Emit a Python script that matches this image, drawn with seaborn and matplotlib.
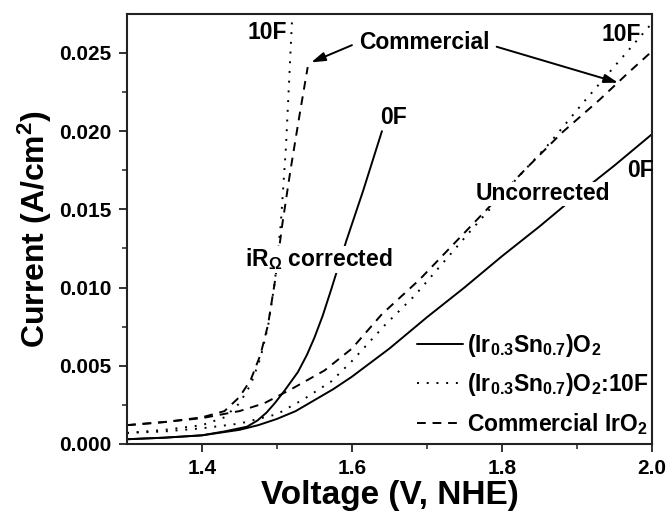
import matplotlib
matplotlib.use("Agg")
import matplotlib.pyplot as plt
from matplotlib.lines import Line2D
import seaborn as sns

# Polarization curves (voltage in V vs NHE, current density in A/cm^2)
# Uncorrected (Ir0.3Sn0.7)O2
v_0f = [1.30, 1.35, 1.40, 1.45, 1.475, 1.50, 1.525, 1.55, 1.575, 1.60, 1.625,
        1.65, 1.70, 1.75, 1.80, 1.85, 1.90, 1.95, 2.00]
j_0f = [0.0003, 0.0004, 0.00055, 0.0009, 0.0012, 0.0016, 0.0021, 0.0028,
        0.0035, 0.0043, 0.0052, 0.0061, 0.0081, 0.0100, 0.0120, 0.0139,
        0.0159, 0.0178, 0.0198]

# Uncorrected (Ir0.3Sn0.7)O2:10F
v_10f = [1.30, 1.35, 1.40, 1.45, 1.50, 1.537, 1.5725, 1.60, 1.644, 1.684,
         1.729, 1.756, 1.8186, 1.863, 1.908, 1.953, 2.00]
j_10f = [0.0007, 0.0008, 0.0010, 0.0013, 0.0019, 0.0029, 0.0040, 0.0053,
         0.0076, 0.0095, 0.0120, 0.0135, 0.0169, 0.0192, 0.0218, 0.0243, 0.0269]

# Uncorrected commercial IrO2
v_com = [1.30, 1.35, 1.40, 1.45, 1.483, 1.519, 1.5635, 1.60, 1.64, 1.69,
         1.73, 1.78, 1.83, 1.88, 1.93, 1.97, 2.00]
j_com = [0.0012, 0.0014, 0.00165, 0.0021, 0.0026, 0.0035, 0.0047, 0.0061,
         0.0083, 0.0105, 0.0125, 0.0150, 0.0175, 0.0199, 0.0220, 0.0238, 0.0251]

# iR-corrected curves
v_0f_ir = [1.30, 1.35, 1.40, 1.43, 1.46, 1.474, 1.486, 1.497, 1.51, 1.528,
           1.54, 1.55, 1.561, 1.5725, 1.5926, 1.615, 1.640]
j_0f_ir = [0.0003, 0.0004, 0.00055, 0.0008, 0.0011, 0.0015, 0.0020, 0.0026,
           0.0034, 0.0046, 0.0057, 0.0068, 0.0082, 0.0099, 0.0130, 0.0162,
           0.0200]

v_10f_ir = [1.30, 1.35, 1.40, 1.43, 1.45, 1.465, 1.478, 1.488, 1.497, 1.505,
            1.512, 1.518, 1.521]
j_10f_ir = [0.0007, 0.0009, 0.0012, 0.0017, 0.0026, 0.0038, 0.0055, 0.0075,
            0.0103, 0.0140, 0.0190, 0.0250, 0.0280]

v_com_ir = [1.30, 1.35, 1.40, 1.43, 1.45, 1.465, 1.478, 1.488, 1.497, 1.507,
            1.518, 1.530, 1.541]
j_com_ir = [0.0012, 0.0014, 0.0017, 0.0021, 0.0030, 0.0041, 0.0057, 0.0076,
            0.0103, 0.0140, 0.0175, 0.0210, 0.0241]

legend_labels = [r"(Ir$_{0.3}$Sn$_{0.7}$)O$_2$",
                 r"(Ir$_{0.3}$Sn$_{0.7}$)O$_2$:10F",
                 r"Commercial IrO$_2$"]

x_ticks = [1.4, 1.6, 1.8, 2.0]
y_ticks = [0.000, 0.005, 0.010, 0.015, 0.020, 0.025]

sns.set_theme(style="ticks")
plt.rcParams["font.family"] = ["Liberation Sans", "DejaVu Sans"]
plt.rcParams["font.weight"] = "bold"
for key in ("text.color", "axes.labelcolor", "xtick.color", "ytick.color",
            "axes.edgecolor"):
    plt.rcParams[key] = "black"
plt.rcParams["mathtext.fontset"] = "custom"
plt.rcParams["mathtext.default"] = "bf"
plt.rcParams["mathtext.bf"] = "Liberation Sans:bold"
plt.rcParams["mathtext.rm"] = "Liberation Sans:bold"
plt.rcParams["mathtext.it"] = "Liberation Sans:bold"

fig, ax = plt.subplots(figsize=(6.72, 5.15), dpi=100)
fig.subplots_adjust(left=0.189, right=0.970, bottom=0.138, top=0.973)

LW = 1.4
SOLID = "-"
DOT = (0, (1, 4))
DASH = (0, (4.5, 3.5))

series = [
    (v_0f, j_0f, SOLID), (v_10f, j_10f, DOT), (v_com, j_com, DASH),
    (v_0f_ir, j_0f_ir, SOLID), (v_10f_ir, j_10f_ir, DOT), (v_com_ir, j_com_ir, DASH),
]
for xs, ys, ls in series:
    sns.lineplot(x=xs, y=ys, ax=ax, color="black", linewidth=LW,
                 linestyle=ls, sort=False, estimator=None)

ax.set_xlim(1.3, 2.0)
ax.set_ylim(0.0, 0.0275)
ax.set_xticks(x_ticks)
ax.set_xticklabels([f"{t:.1f}" for t in x_ticks])
ax.set_xticks([1.5, 1.7, 1.9], minor=True)
ax.set_yticks(y_ticks)
ax.set_yticklabels([f"{t:.3f}" for t in y_ticks])
ax.set_yticks([0.0025, 0.0075, 0.0125, 0.0175, 0.0225], minor=True)

ax.tick_params(which="major", direction="out", length=6, width=1.3,
               labelsize=15, pad=5, color="#222222")
ax.tick_params(which="minor", direction="out", length=3.5, width=1.1,
               color="#222222")
for sp in ax.spines.values():
    sp.set_visible(True)
    sp.set_linewidth(1.5)
    sp.set_color("#222222")

ax.set_xlabel("Voltage (V, NHE)", fontsize=24, fontweight="bold", labelpad=1)
ax.set_ylabel(r"Current (A/cm$^2$)", fontsize=23, fontweight="bold", labelpad=4)

# Annotations
txt = dict(fontsize=16.5, fontweight="bold", ha="center", va="center")
ax.text(1.487, 0.0263, "10F", **txt)
ax.text(1.959, 0.0262, "10F", **txt)
ax.text(1.656, 0.0209, "0F", **txt)
ax.text(1.985, 0.0175, "0F", **txt)
ax.text(1.855, 0.0160, "Uncorrected",
        bbox=dict(facecolor="white", edgecolor="none", pad=0.5), **txt)
ax.text(1.556, 0.0118, r"iR$_{\Omega}$ corrected",
        bbox=dict(facecolor="white", edgecolor="none", pad=0.5), **txt)
ax.text(1.697, 0.0257, "Commercial", **txt)
arrow = dict(arrowstyle="-|>,head_length=0.7,head_width=0.22",
             color="black", lw=1.4, shrinkA=0, shrinkB=0)
ax.annotate("", xy=(1.5456, 0.0244), xytext=(1.600, 0.0255), arrowprops=arrow)
ax.annotate("", xy=(1.955, 0.0231), xytext=(1.793, 0.0254), arrowprops=arrow)

handles = [Line2D([], [], color="black", lw=LW, linestyle=SOLID),
           Line2D([], [], color="black", lw=LW, linestyle=DOT),
           Line2D([], [], color="black", lw=LW, linestyle=DASH)]
ax.legend(handles, legend_labels, loc="lower right", frameon=False,
          fontsize=16.5, handlelength=2.0, handletextpad=0.2,
          labelspacing=0.55, borderaxespad=0.0,
          bbox_to_anchor=(1.012, -0.005))

fig.savefig("out.png", dpi=100)
